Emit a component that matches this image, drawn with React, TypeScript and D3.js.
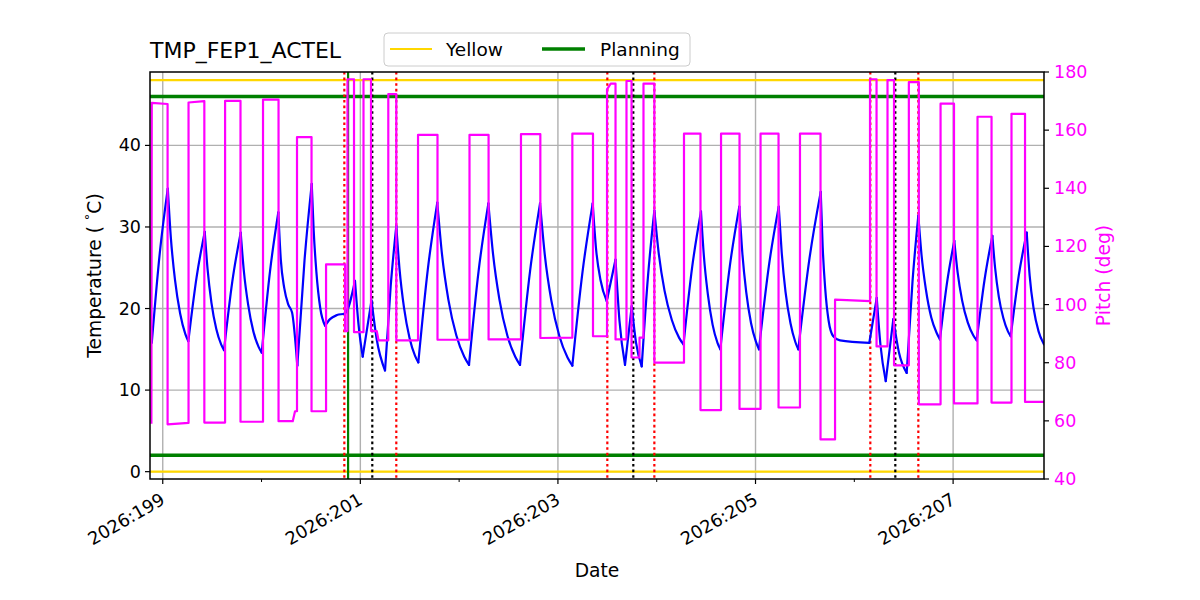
import React from 'react';
import * as d3 from 'd3';

// ---- data ----
const titleText = 'TMP_FEP1_ACTEL';
const xMajorTicks = [199, 201, 203, 205, 207];
const xMajorLabels = ['2026:199', '2026:201', '2026:203', '2026:205', '2026:207'];
const xMinorTicks = [200, 202, 204, 206];
const tempTicks = [0, 10, 20, 30, 40];
const pitchTicks = [40, 60, 80, 100, 120, 140, 160, 180];
const yellowLimits = [0, 48];
const planningLimits = [2, 46];
const planningEvents = [200.876];
const redEvents = [200.838, 201.364, 203.5, 203.976, 206.162, 206.648];
const blackEvents = [201.121, 203.763, 206.415];

const temperature: [number, number][] = [
  [198.889, 15.8], [198.970, 26.8], [199.051, 34.7],
  [199.082, 28.7], [199.124, 23.5], [199.176, 19.4], [199.228, 16.9], [199.259, 16.0],
  [199.342, 23.8], [199.425, 29.4],
  [199.454, 24.8], [199.493, 20.7], [199.542, 17.5], [199.591, 15.6], [199.620, 14.9],
  [199.704, 23.3], [199.789, 29.3],
  [199.821, 24.6], [199.864, 20.5], [199.917, 17.2], [199.970, 15.3], [200.002, 14.6],
  [200.086, 24.6], [200.170, 31.8],
  [200.195, 26.0], [200.230, 22.5], [200.270, 20.5], [200.309, 19.5], [200.362, 13.0],
  [200.435, 25.9], [200.508, 35.3],
  [200.528, 29.5], [200.555, 24.5], [200.595, 20.0], [200.643, 17.9],
  [200.693, 18.7], [200.764, 19.2], [200.845, 19.4], [200.946, 23.4], [200.982, 18.0], [201.024, 14.1],
  [201.113, 21.0], [201.166, 16.2], [201.250, 12.4], [201.307, 22.7], [201.364, 30.1],
  [201.397, 24.8], [201.442, 20.1], [201.498, 16.4], [201.554, 14.2], [201.587, 13.4],
  [201.683, 24.8], [201.779, 33.0],
  [201.827, 26.6], [201.891, 21.1], [201.972, 16.7], [202.052, 14.1], [202.100, 13.1],
  [202.197, 24.6], [202.296, 32.9],
  [202.344, 26.6], [202.408, 21.1], [202.488, 16.7], [202.568, 14.1], [202.616, 13.1],
  [202.718, 24.6], [202.819, 32.9],
  [202.868, 26.5], [202.933, 21.0], [203.015, 16.6], [203.097, 14.0], [203.146, 13.0],
  [203.249, 24.5], [203.352, 32.9], [203.386, 27.3], [203.431, 23.5], [203.494, 20.9],
  [203.583, 26.0], [203.623, 18.5], [203.679, 13.1], [203.747, 20.3], [203.791, 15.8], [203.848, 12.9],
  [203.912, 24.0], [203.976, 32.0],
  [204.020, 26.8], [204.079, 22.2], [204.153, 18.6], [204.227, 16.4], [204.271, 15.6],
  [204.359, 25.1], [204.448, 31.9],
  [204.477, 26.5], [204.517, 21.8], [204.566, 18.0], [204.615, 15.8], [204.644, 15.0],
  [204.740, 25.2], [204.836, 32.5],
  [204.866, 26.9], [204.906, 22.0], [204.955, 18.2], [205.005, 15.9], [205.035, 15.0],
  [205.135, 25.2], [205.235, 32.5],
  [205.265, 26.9], [205.304, 22.0], [205.354, 18.2], [205.403, 15.9], [205.433, 15.0],
  [205.547, 26.2], [205.660, 34.3],
  [205.680, 27.5], [205.705, 22.5], [205.740, 18.5], [205.787, 16.6], [205.855, 16.1], [206.152, 15.8],
  [206.227, 21.3], [206.265, 15.5], [206.318, 11.1], [206.395, 18.7], [206.452, 14.6], [206.530, 12.1],
  [206.589, 23.3], [206.648, 31.4],
  [206.681, 26.5], [206.725, 22.3], [206.779, 18.9], [206.834, 17.0], [206.867, 16.2],
  [206.939, 23.2], [207.012, 28.3],
  [207.046, 24.4], [207.091, 21.0], [207.148, 18.3], [207.205, 16.7], [207.239, 16.1],
  [207.318, 23.5], [207.397, 28.9],
  [207.425, 25.0], [207.462, 21.5], [207.509, 18.8], [207.555, 17.2], [207.583, 16.6],
  [207.664, 24.0], [207.745, 29.3],
  [207.775, 24.0], [207.815, 20.0], [207.865, 17.2], [207.920, 15.6],
];

const pitch: [number, number][] = [
  [198.885, 59.0], [198.889, 169.4], [199.049, 169.0], [199.049, 58.8], [199.261, 59.3], [199.261, 169.5],
  [199.421, 170.0], [199.421, 59.4], [199.631, 59.4], [199.631, 170.1], [199.787, 170.1], [199.787, 59.7],
  [200.015, 59.7], [200.015, 170.5], [200.172, 170.5], [200.172, 59.9], [200.316, 59.9], [200.339, 63.3],
  [200.359, 63.3], [200.359, 157.6], [200.506, 157.6], [200.506, 63.3], [200.653, 63.3], [200.653, 113.8],
  [200.845, 113.8], [200.845, 90.9], [200.870, 90.9], [200.870, 177.5], [200.936, 177.5], [200.936, 90.5],
  [201.032, 90.5], [201.032, 177.5], [201.108, 177.5], [201.108, 90.9], [201.166, 90.9], [201.184, 87.7],
  [201.283, 87.7], [201.283, 172.4], [201.364, 172.4], [201.364, 87.7], [201.584, 87.7], [201.584, 158.4],
  [201.781, 158.4], [201.781, 87.9], [202.105, 87.9], [202.105, 158.4], [202.298, 158.4], [202.298, 88.0],
  [202.626, 88.0], [202.626, 158.6], [202.822, 158.6], [202.822, 88.5], [203.146, 88.6], [203.146, 158.8],
  [203.355, 158.8], [203.355, 89.1], [203.497, 89.1], [203.497, 174.0], [203.534, 176.0], [203.583, 176.0],
  [203.583, 88.0], [203.694, 88.0], [203.694, 176.9], [203.745, 176.9], [203.745, 81.8], [203.826, 81.8],
  [203.826, 88.6], [203.866, 88.6], [203.866, 176.0], [203.976, 176.0], [203.976, 80.0], [204.276, 80.0],
  [204.276, 158.8], [204.443, 158.8], [204.443, 63.7], [204.651, 63.7], [204.651, 158.8], [204.838, 158.8],
  [204.838, 64.1], [205.051, 64.1], [205.051, 158.8], [205.233, 158.8], [205.233, 64.6], [205.450, 64.6],
  [205.450, 158.8], [205.658, 158.8], [205.658, 53.6], [205.805, 53.6], [205.805, 101.7], [206.159, 101.2],
  [206.159, 177.5], [206.225, 177.5], [206.225, 85.6], [206.336, 85.6], [206.336, 177.2], [206.402, 177.2],
  [206.402, 79.1], [206.552, 79.1], [206.552, 176.5], [206.653, 176.5], [206.653, 65.7], [206.873, 65.7],
  [206.873, 169.1], [207.009, 169.1], [207.009, 66.0], [207.247, 66.0], [207.247, 164.6], [207.389, 164.6],
  [207.389, 66.3], [207.591, 66.3], [207.591, 165.6], [207.728, 165.6], [207.728, 66.5], [207.920, 66.5],
];

// ---- layout ----
const W = 1200, H = 600;
const L = 150, R = 1044, T = 72, B = 479;
const FONT = 'DejaVu Sans, sans-serif';

function splitMonotone(pts: [number, number][]) {
  const segs: [number, number][][] = [];
  let cur: [number, number][] = [pts[0]];
  let dir = 0;
  for (let i = 1; i < pts.length; i++) {
    const d = Math.sign(pts[i][1] - pts[i - 1][1]);
    if (dir !== 0 && d !== 0 && d !== dir) {
      segs.push(cur);
      cur = [pts[i - 1]];
    }
    if (d !== 0) dir = d;
    cur.push(pts[i]);
  }
  segs.push(cur);
  return segs;
}

export default function App() {
  const x = d3.scaleLinear().domain([198.871, 207.92]).range([L, R]);
  const yT = d3.scaleLinear().domain([-0.9, 49.0]).range([B, T]);
  const yP = d3.scaleLinear().domain([40, 180]).range([B, T]);

  const tempLine = d3.line<[number, number]>().x(d => x(d[0])).y(d => yT(d[1])).curve(d3.curveMonotoneX);
  const pitchLine = d3.line<[number, number]>().x(d => x(d[0])).y(d => yP(d[1]));
  const tempSegs = splitMonotone(temperature);

  return (
    <svg width={W} height={H} style={{ position: 'absolute', left: 0, top: 0, background: '#fff' }} fontFamily={FONT}>
      <defs>
        <clipPath id="plotclip"><rect x={L} y={T} width={R - L} height={B - T} /></clipPath>
      </defs>
      <rect x={0} y={0} width={W} height={H} fill="#fff" />
      {/* grid */}
      <g stroke="#b0b0b0" strokeWidth={1.4}>
        {tempTicks.map(t => <line key={'gy' + t} x1={L} x2={R} y1={yT(t)} y2={yT(t)} />)}
        {xMajorTicks.map(t => <line key={'gx' + t} x1={x(t)} x2={x(t)} y1={T} y2={B} />)}
      </g>
      <g clipPath="url(#plotclip)">
        {yellowLimits.map(v => <line key={'yl' + v} x1={L} x2={R} y1={yT(v)} y2={yT(v)} stroke="#ffd700" strokeWidth={2.2} />)}
        {planningLimits.map(v => <line key={'pl' + v} x1={L} x2={R} y1={yT(v)} y2={yT(v)} stroke="#008000" strokeWidth={3.5} />)}
        {planningEvents.map(v => <line key={'pe' + v} x1={x(v)} x2={x(v)} y1={T} y2={B} stroke="#008000" strokeWidth={2.2} />)}
        {redEvents.map(v => <line key={'re' + v} x1={x(v)} x2={x(v)} y1={T} y2={B} stroke="#ff0000" strokeWidth={2.2} strokeDasharray="2.6,3" />)}
        {blackEvents.map(v => <line key={'be' + v} x1={x(v)} x2={x(v)} y1={T} y2={B} stroke="#000" strokeWidth={2.2} strokeDasharray="2.6,3" />)}
        {tempSegs.map((s, i) => <path key={'ts' + i} d={tempLine(s) || ''} fill="none" stroke="#0000ff" strokeWidth={2.2} strokeLinejoin="round" strokeLinecap="round" />)}
        <path d={pitchLine(pitch) || ''} fill="none" stroke="#ff00ff" strokeWidth={2.2} strokeLinejoin="round" />
      </g>
      {/* frame */}
      <rect x={L} y={T} width={R - L} height={B - T} fill="none" stroke="#000" strokeWidth={1.5} />
      {/* left ticks */}
      {tempTicks.map(t => (
        <g key={'lt' + t}>
          <line x1={L - 5} x2={L} y1={yT(t)} y2={yT(t)} stroke="#000" strokeWidth={1.2} />
          <text x={L - 9} y={yT(t)} textAnchor="end" dominantBaseline="central" fontSize={17.5} fill="#000">{t}</text>
        </g>
      ))}
      {/* right ticks */}
      {pitchTicks.map(t => (
        <g key={'rt' + t}>
          <line x1={R} x2={R + 5} y1={yP(t)} y2={yP(t)} stroke="#000" strokeWidth={1.2} />
          <text x={R + 10} y={yP(t)} textAnchor="start" dominantBaseline="central" fontSize={17.5} fill="#ff00ff">{t}</text>
        </g>
      ))}
      {/* x ticks */}
      {xMajorTicks.map((t, i) => (
        <g key={'xt' + t}>
          <line x1={x(t)} x2={x(t)} y1={B} y2={B + 5} stroke="#000" strokeWidth={1.2} />
          <text transform={`translate(${x(t) - 3},${B + 13}) rotate(-30)`} textAnchor="end" dy="0.72em" fontSize={17.8} fill="#000">{xMajorLabels[i]}</text>
        </g>
      ))}
      {xMinorTicks.map(t => (
        <line key={'xm' + t} x1={x(t)} x2={x(t)} y1={B} y2={B + 3} stroke="#000" strokeWidth={1} />
      ))}
      {/* axis labels */}
      <text x={(L + R) / 2} y={577} textAnchor="middle" fontSize={18.7} fill="#000">Date</text>
      <text transform={`translate(101,${(B + T) / 2}) rotate(-90)`} textAnchor="middle" fontSize={18.7} fill="#000">
        Temperature ( <tspan fontSize={13} dy="-7">°</tspan><tspan dy="7">C)</tspan>
      </text>
      <text transform={`translate(1110,${(B + T) / 2}) rotate(-90)`} textAnchor="middle" fontSize={18.7} fill="#ff00ff">Pitch (deg)</text>
      {/* title */}
      <text x={L} y={58} fontSize={22} fill="#000">{titleText}</text>
      {/* legend */}
      <g>
        <rect x={384} y={33} width={306} height={33} rx={4} fill="#fff" fillOpacity={0.8} stroke="#cccccc" strokeWidth={1} />
        <line x1={390} x2={432} y1={49} y2={49} stroke="#ffd700" strokeWidth={2.2} />
        <text x={446} y={49} dominantBaseline="central" fontSize={18.5} fill="#000">Yellow</text>
        <line x1={542} x2={585} y1={49} y2={49} stroke="#008000" strokeWidth={3.5} />
        <text x={600} y={49} dominantBaseline="central" fontSize={18.5} fill="#000">Planning</text>
      </g>
    </svg>
  );
}
